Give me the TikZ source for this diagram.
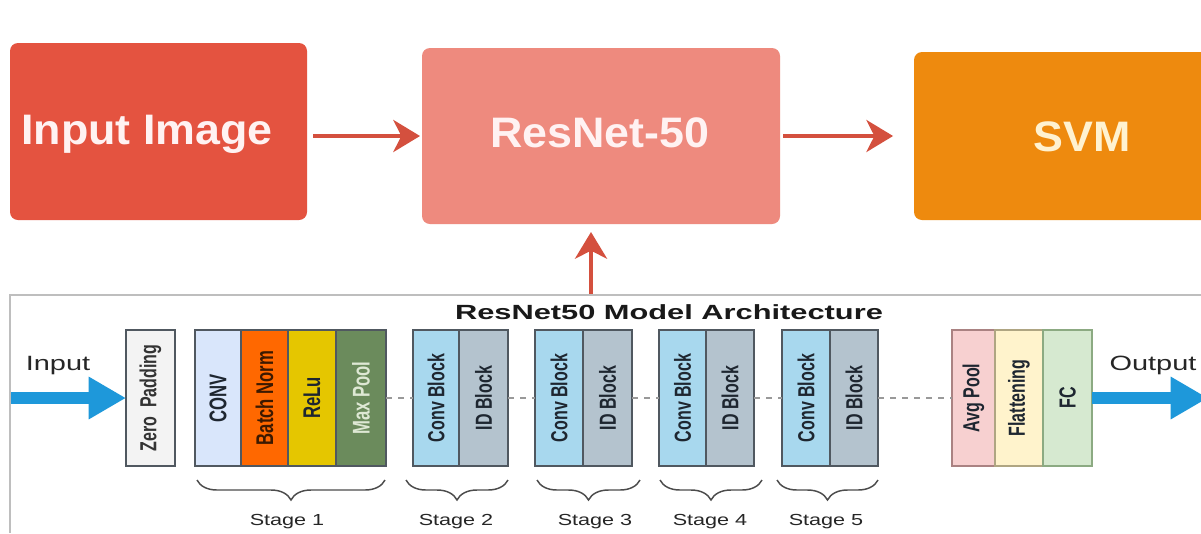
\documentclass[tikz,border=0pt]{standalone}
\usepackage{fontspec}
\setmainfont{Liberation Sans}
\usetikzlibrary{arrows.meta,decorations.pathreplacing,calc}
\definecolor{inpred}{RGB}{228,83,64}
\definecolor{resred}{RGB}{238,138,126}
\definecolor{svmor}{RGB}{238,138,14}
\definecolor{arrred}{RGB}{212,80,62}
\definecolor{panelgray}{RGB}{190,190,190}
\definecolor{blkborder}{RGB}{80,88,96}
\definecolor{zpfill}{RGB}{243,243,243}
\definecolor{convfill}{RGB}{217,230,251}
\definecolor{bnfill}{RGB}{255,104,0}
\definecolor{relufill}{RGB}{229,198,0}
\definecolor{mpfill}{RGB}{107,139,92}
\definecolor{cbfill}{RGB}{168,216,238}
\definecolor{idfill}{RGB}{180,195,206}
\definecolor{apfill}{RGB}{247,208,208}
\definecolor{flfill}{RGB}{255,243,204}
\definecolor{fcfill}{RGB}{214,233,208}
\definecolor{blue1}{RGB}{30,152,218}
\definecolor{txtdark}{RGB}{30,38,48}
\newcommand{\hx}[2][1.4]{\scalebox{#1}[1]{#2}}
\newcommand{\rtx}[1]{\scalebox{1}[1.45]{#1}}
\begin{document}
\begin{tikzpicture}[x=0.75pt,y=-0.75pt,
  topbox/.style={rounded corners=6pt, draw=none, inner sep=0, outer sep=0},
  toptext/.style={font=\bfseries\fontsize{32}{34}\selectfont, anchor=base, inner sep=0},
  redarrow/.style={draw=arrred, line width=3pt, -{Stealth[length=20pt,width=24pt,inset=6pt]}},
  blk/.style={draw=blkborder, line width=0.9pt, minimum width=#1*0.75pt, minimum height=102pt, inner sep=0, outer sep=0},
  rt/.style={rotate=90, inner sep=0, text=txtdark, font=\bfseries\fontsize{12}{12}\selectfont},
  rt1/.style={rotate=90, inner sep=0, text=txtdark, font=\bfseries\fontsize{12.5}{12.5}\selectfont},
  dashline/.style={draw=gray!80, line width=0.8pt, dash pattern=on 4.5pt off 4.5pt},
  bracestyle/.style={draw=black!70, line width=1.1pt, decorate, decoration={brace, mirror, amplitude=15pt}},
  stagelbl/.style={anchor=base, inner sep=0, text=black!85, font=\fontsize{12}{12}\selectfont},
  iolbl/.style={anchor=base, inner sep=0, text=black!85, font=\fontsize{15.5}{16}\selectfont},
  bluearrow/.style={draw=blue1, line width=9pt, -{Triangle[length=28pt,width=30pt]}}
]
\useasboundingbox (0,0) rectangle (1201,533);
\fill[white] (0,0) rectangle (1201,533);

% top boxes
\node[topbox, fill=inpred, minimum width=297*0.75pt, minimum height=177*0.75pt] (inp) at (158.5,131.5) {};
\node[topbox, fill=resred, minimum width=358*0.75pt, minimum height=176*0.75pt] (res) at (601,136) {};
\node[topbox, fill=svmor, minimum width=306*0.75pt, minimum height=168*0.75pt] (svm) at (1067,136) {};
\node[toptext, text=white!95!red] (tinp) at (147,144) {\hx[1.05]{Input Image}};
\node[toptext, text=white!95!red] (tres) at (600,147) {\hx[1.05]{ResNet-50}};
\node[toptext, text={rgb,255:red,255;green,242;blue,208}] (tsvm) at (1082,151) {\hx[1.05]{SVM}};

\draw[redarrow, shorten <=4.5pt, shorten >=1.5pt] (inp.east |- res.west) -- (res.west);
\draw[redarrow, shorten <=2.3pt, shorten >=15.7pt] (res.east) -- (svm.west |- res.east);
\coordinate (upfrom) at (591,295);
\draw[redarrow, shorten >=6pt] (upfrom) -- (upfrom |- res.south);

% panel frame
\draw[panelgray, line width=1.5pt] (10,533) -- (10,295) -- (1201,295);
\node[anchor=base, inner sep=0, font=\bfseries\fontsize{15.4}{16}\selectfont, text=black!90] (title) at (669,319) {\hx[1.5]{ResNet50 Model Architecture}};

% blocks
\node[blk=49, fill=zpfill] (zp) at (150.5,398) {};
\node[blk=46, fill=convfill] (conv) at (218,398) {};
\node[blk=47, fill=bnfill] (bn) at (264.5,398) {};
\node[blk=48, fill=relufill] (relu) at (312,398) {};
\node[blk=50, fill=mpfill] (mp) at (361,398) {};
\node[blk=46, fill=cbfill] (c2) at (436,398) {};
\node[blk=49, fill=idfill] (i2) at (483.5,398) {};
\node[blk=48, fill=cbfill] (c3) at (559,398) {};
\node[blk=49, fill=idfill] (i3) at (607.5,398) {};
\node[blk=47, fill=cbfill] (c4) at (682.5,398) {};
\node[blk=48, fill=idfill] (i4) at (730,398) {};
\node[blk=48, fill=cbfill] (c5) at (806,398) {};
\node[blk=48, fill=idfill] (i5) at (854,398) {};
\node[blk=43, fill=apfill, draw={rgb,255:red,170;green,130;blue,130}] (ap) at (973.5,398) {};
\node[blk=48, fill=flfill, draw={rgb,255:red,175;green,165;blue,130}] (fl) at (1019,398) {};
\node[blk=49, fill=fcfill, draw={rgb,255:red,140;green,170;blue,130}] (fc) at (1067.5,398) {};

% block texts
\node[rt, font=\bfseries\fontsize{12}{12}\selectfont, text=black!80] (tzp) at (zp) {\rtx{Zero\ \ Padding}};
\node[rt1] (tconv) at (conv) {\rtx{CONV}};
\node[rt1, text={rgb,255:red,60;green,25;blue,0}] (tbn) at (bn) {\rtx{Batch Norm}};
\node[rt1] (trelu) at (relu) {\rtx{ReLu}};
\node[rt1, text={rgb,255:red,222;green,232;blue,212}] (tmp) at (mp) {\rtx{Max Pool}};
\node[rt] (tc2) at (c2) {\rtx{Conv Block}};
\node[rt] (ti2) at (i2) {\rtx{ID Block}};
\node[rt] (tc3) at (c3) {\rtx{Conv Block}};
\node[rt] (ti3) at (i3) {\rtx{ID Block}};
\node[rt] (tc4) at (c4) {\rtx{Conv Block}};
\node[rt] (ti4) at (i4) {\rtx{ID Block}};
\node[rt] (tc5) at (c5) {\rtx{Conv Block}};
\node[rt] (ti5) at (i5) {\rtx{ID Block}};
\node[rt] (tap) at (ap) {\rtx{Avg Pool}};
\node[rt] (tfl) at (fl) {\rtx{Flattening}};
\node[rt] (tfc) at (fc) {\rtx{FC}};

% dashed links
\draw[dashline] (mp.east) -- (c2.west);
\draw[dashline] (i2.east) -- (c3.west);
\draw[dashline] (i3.east) -- (c4.west);
\draw[dashline] (i4.east) -- (c5.west);
\draw[dashline] (i5.east) -- (ap.west);

% input / output arrows
\coordinate (instart) at (11,398);
\coordinate (outend) at (1208,398);
\draw[bluearrow] (instart) -- (zp.west);
\draw[bluearrow] (fc.east) -- (outend);
\node[iolbl] (lin) at (58,370) {\hx{Input}};
\node[iolbl] (lout) at (1153,370) {\hx{Output}};

% braces
\draw[bracestyle] (197,480) -- (385,480);
\draw[bracestyle] (406,480) -- (508,480);
\draw[bracestyle] (537,480) -- (640,480);
\draw[bracestyle] (660,480) -- (762,480);
\draw[bracestyle] (777,480) -- (878,480);
\node[stagelbl] (s1) at (287,525) {\hx[1.35]{Stage 1}};
\node[stagelbl] (s2) at (456,525) {\hx[1.35]{Stage 2}};
\node[stagelbl] (s3) at (595,525) {\hx[1.35]{Stage 3}};
\node[stagelbl] (s4) at (710,525) {\hx[1.35]{Stage 4}};
\node[stagelbl] (s5) at (826,525) {\hx[1.35]{Stage 5}};
\end{tikzpicture}
\end{document}
